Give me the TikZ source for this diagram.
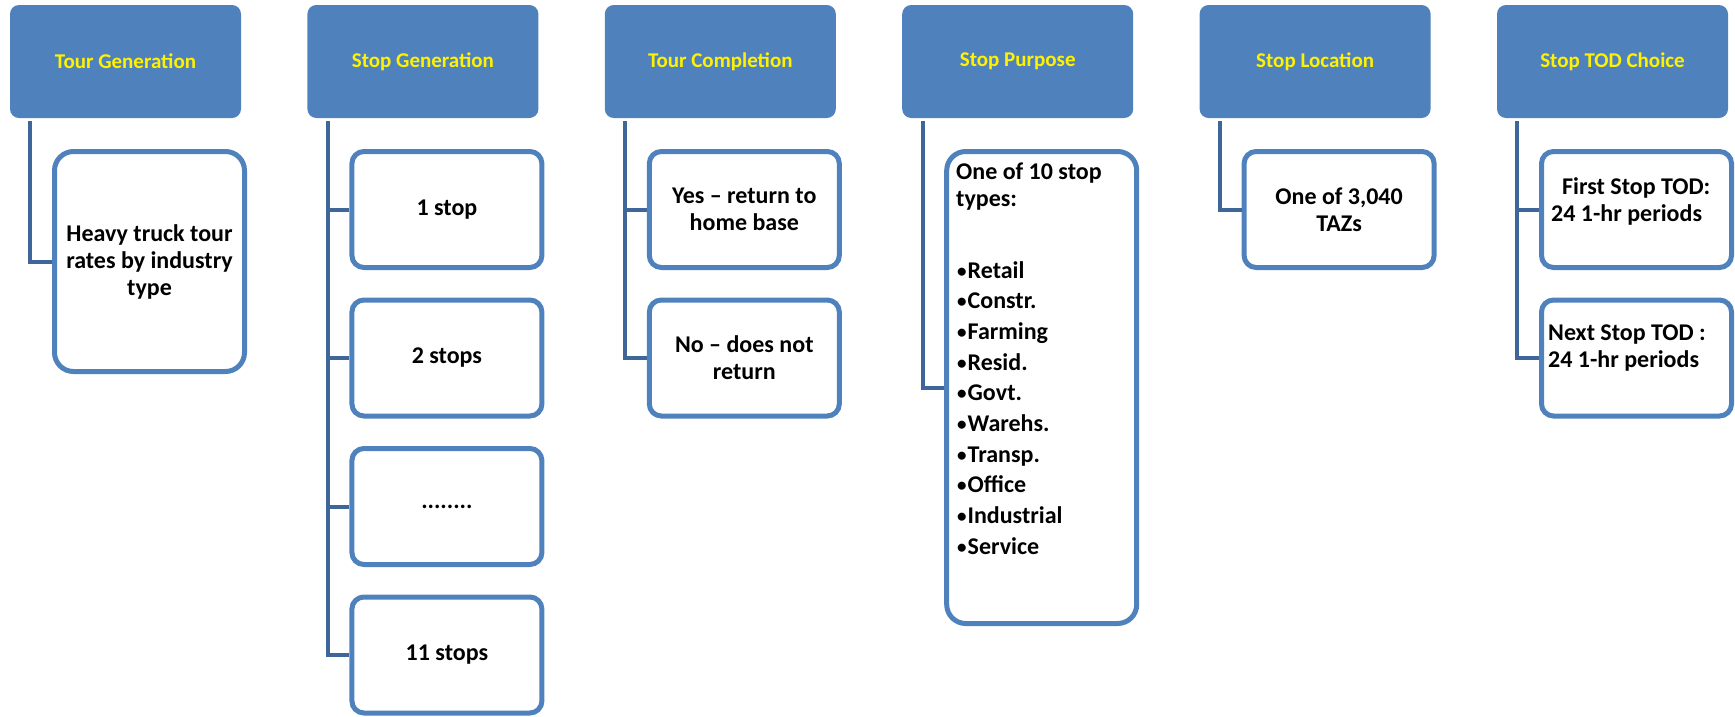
\documentclass[tikz,border=0pt]{standalone}
\usepackage{fontspec}
\setmainfont{Carlito}
\definecolor{hdrblue}{HTML}{4F81BD}
\definecolor{linkblue}{HTML}{3F6699}
% small list bullet
\newcommand\listdot{\raisebox{1pt}{\fontsize{19}{19}\selectfont•}\hspace{1pt}}
\begin{document}
\begin{tikzpicture}[x=1pt,y=-1pt,
  header/.style={fill=hdrblue, rounded corners=9pt, minimum width=231pt,
    minimum height=113pt, inner sep=0pt, text=yellow,
    font=\fontsize{21}{25}\selectfont\bfseries},
  item/.style={draw=hdrblue, line width=5pt, fill=white, rounded corners=12pt,
    minimum width=190pt, minimum height=116pt, inner sep=0pt, align=center,
    font=\fontsize{24}{27}\selectfont\bfseries},
  tallitem/.style={item, rounded corners=19pt},
  label/.style={inner sep=0pt, align=left, anchor=north west,
    font=\fontsize{24}{27}\selectfont\bfseries},
  conn/.style={draw=linkblue, line width=4pt}]
\useasboundingbox (0,0) rectangle (1735,716);

% column headers
\node[header] (h1) at (125.5,61.5)  {Tour Generation};
\node[header] (h2) at (422.9,61.5)  {Stop Generation};
\node[header] (h3) at (720.3,61.5)  {Tour Completion};
\node[header] (h4) at (1017.7,61.5) {Stop Purpose};
\node[header] (h5) at (1315.1,61.5) {Stop Location};
\node[header] (h6) at (1612.5,61.5) {Stop TOD Choice};

% trunk positions below each header
\foreach \i in {1,...,6}
  \coordinate (t\i) at ([xshift=20.5pt,yshift=-3pt]h\i.south west);

% child boxes
\node[tallitem, minimum height=220pt] (c11) at (149.5,261.5)
  {Heavy truck tour\\rates by industry\\type};

\node[item] (c21) at (446.9,209.5) {1 stop};
\node[item] (c22) at (446.9,358)   {2 stops};
\node[item] (c23) at (446.9,506.5) {........};
\node[item] (c24) at (446.9,655)   {11 stops};

\node[item] (c31) at (744.3,209.5) {Yes -- return to\\home base};
\node[item] (c32) at (744.3,358)   {No -- does not\\return};

\node[tallitem, minimum height=472pt] (c41) at (1041.7,387.5) {};
\node[label] (p1) at (956,163) {One of 10 stop\\types:};
\node[label, font=\fontsize{24}{30.7}\selectfont\bfseries] (p2) at (957,261)
  {\listdot Retail\\\listdot Constr.\\\listdot Farming\\\listdot Resid.\\
   \listdot Govt.\\\listdot Warehs.\\\listdot Transp.\\\listdot Office\\
   \listdot Industrial\\\listdot Service};

\node[item] (c51) at (1339.1,209.5) {One of 3,040\\TAZs};

\node[item] (c61) at (1636.5,209.5) {};
\node[item] (c62) at (1636.5,358)   {};
\node[label] (d1) at (1551,177) {\hspace*{11pt}First Stop TOD:\\24 1-hr periods};
\node[label] (d2) at (1548,325) {Next Stop TOD :\\24 1-hr periods};

% connectors
\draw[conn] (t1) |- (c11.west);
\draw[conn] (t2) |- (c24.west);
\foreach \c in {c21,c22,c23} \draw[conn] (\c.west) -- (\c.west -| t2);
\draw[conn] (t3) |- (c32.west);
\draw[conn] (c31.west) -- (c31.west -| t3);
\draw[conn] (t4) |- (c41.west);
\draw[conn] (t5) |- (c51.west);
\draw[conn] (t6) |- (c62.west);
\draw[conn] (c61.west) -- (c61.west -| t6);
\end{tikzpicture}
\end{document}
